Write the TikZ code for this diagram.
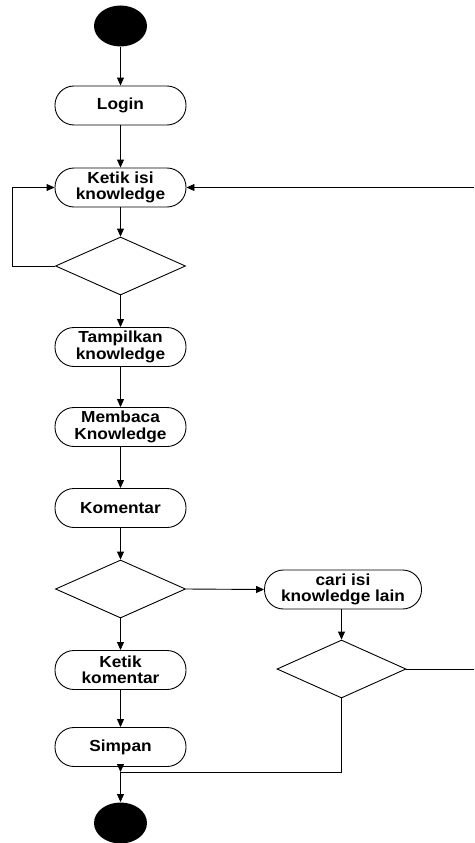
\documentclass[tikz,border=0pt]{standalone}
\usepackage{fontspec}
\setmainfont{Liberation Sans}[FakeStretch=1.08]
\usetikzlibrary{shapes.geometric,arrows.meta}
\begin{document}
\begin{tikzpicture}[x=1pt,y=-1pt,
  line width=0.9pt,
  arr/.style={-{Triangle[length=8pt,width=7pt]}},
  act/.style={draw,rounded corners=19pt,minimum width=131pt,minimum height=39pt,
    inner sep=0pt,align=center,font=\fontsize{16}{16.5}\selectfont\bfseries},
  dec/.style={draw,diamond,minimum width=130pt,minimum height=58pt,inner sep=0pt},
  term/.style={fill=black,ellipse,minimum width=53pt,minimum height=41pt,inner sep=0pt}]
\useasboundingbox (0,0) rectangle (474,843);
\clip (0,0) rectangle (474,843);
\node[term] (start) at (120.5,26) {};
\node[act] (login) at (120.5,105.5) {Login};
\node[act] (ketik) at (120.5,187.5) {Ketik isi\\knowledge};
\node[dec] (d1) at (120.5,266) {};
\node[act] (tampil) at (120.5,347) {Tampilkan\\knowledge};
\node[act] (baca) at (120.5,427) {Membaca\\Knowledge};
\node[act] (komen) at (120.5,508) {Komentar};
\node[dec] (d2) at (120.5,589) {};
\node[act] (ketikkom) at (120.5,670) {Ketik\\komentar};
\node[act] (simpan) at (120.5,747) {Simpan};
\node[term] (end) at (120.5,823) {};
\node[act,minimum width=157pt] (cari) at (343,589.5) {cari isi\\knowledge lain};
\node[dec,minimum width=129pt] (d3) at (341.5,669) {};
\coordinate (j) at (120.5,772);
\coordinate (L) at (12,266);
\coordinate (R) at (477,669);

\draw[arr] (start) -- (login);
\draw[arr] (login) -- (ketik);
\draw[arr] (ketik) -- (d1);
\draw[arr] (d1.west) -- (L) |- (ketik.west);
\draw[arr] (d1) -- (tampil);
\draw[arr] (tampil) -- (baca);
\draw[arr] (baca) -- (komen);
\draw[arr] (komen) -- (d2);
\draw[arr] (d2) -- (ketikkom);
\draw[arr] (ketikkom) -- (simpan);
\draw[arr] (simpan) -- (j);
\draw[arr] (j) -- (end);
\draw[arr] (d2.east) -- (cari.west);
\draw[arr] (cari.south -| d3.north) -- (d3);
\draw (d3.south) |- (j);
\draw[arr] (d3.east) -- (R) |- (ketik.east);
\end{tikzpicture}
\end{document}
